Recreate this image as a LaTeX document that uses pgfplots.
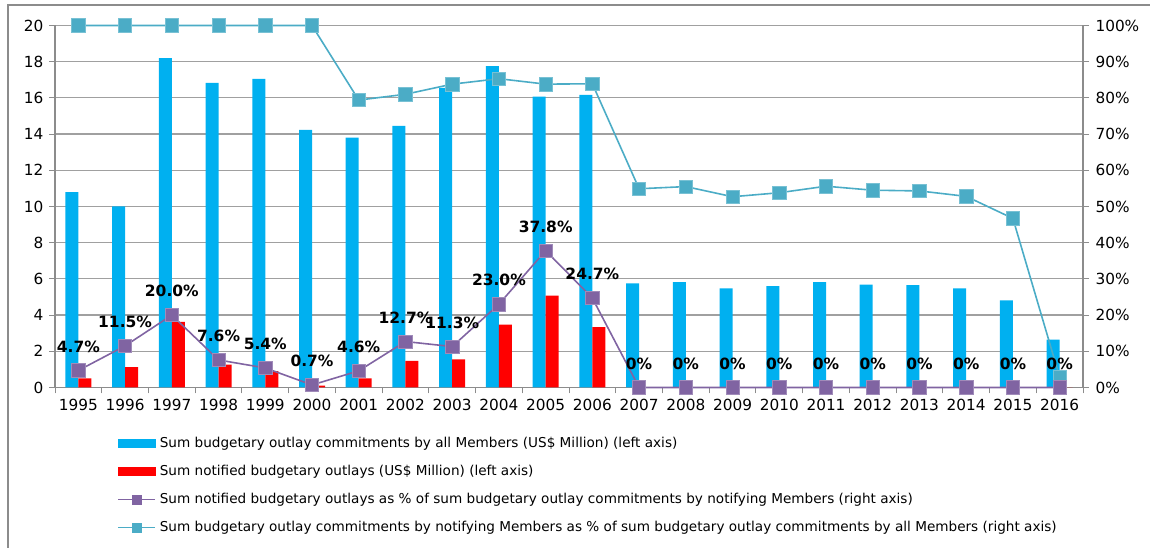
\documentclass[border=0pt]{standalone}
\usepackage{pgfplots}
\pgfplotsset{compat=1.18}
\usepackage{pgfplotstable}
\usepackage{fontspec}
\setmainfont{DejaVu Sans}
\newfontfamily\legfont{DejaVu Sans}
\definecolor{cblue}{HTML}{00B0F0}
\definecolor{cred}{HTML}{FF0000}
\definecolor{cpurple}{HTML}{8064A2}
\definecolor{cteal}{HTML}{4BACC6}
\definecolor{cgrid}{HTML}{A0A0A0}
\definecolor{caxis}{HTML}{8C8C8C}

\pgfplotstableread{
x all notified
0 10.8 0.50
1 10.0 1.12
2 18.2 3.63
3 16.83 1.27
4 17.05 0.90
5 14.23 0.10
6 13.8 0.50
7 14.46 1.47
8 16.56 1.55
9 17.76 3.48
10 16.07 5.08
11 16.16 3.33
12 5.75 0
13 5.82 0
14 5.47 0
15 5.60 0
16 5.82 0
17 5.69 0
18 5.65 0
19 5.47 0
20 4.82 0
21 2.65 0
}\bars

\pgfplotstableread{
x pct label
0 4.7 4.7\%
1 11.5 11.5\%
2 20.0 20.0\%
3 7.6 7.6\%
4 5.4 5.4\%
5 0.7 0.7\%
6 4.6 4.6\%
7 12.7 12.7\%
8 11.3 11.3\%
9 23.0 23.0\%
10 37.8 37.8\%
11 24.7 24.7\%
12 0 0\%
13 0 0\%
14 0 0\%
15 0 0\%
16 0 0\%
17 0 0\%
18 0 0\%
19 0 0\%
20 0 0\%
21 0 0\%
}\purple

\pgfplotstableread{
x share
0 100
1 100
2 100
3 100
4 100
5 100
6 79.4
7 81.0
8 83.8
9 85.3
10 83.8
11 83.9
12 54.9
13 55.5
14 52.7
15 53.8
16 55.6
17 54.5
18 54.3
19 52.8
20 46.7
21 2.9
}\teal

\begin{document}
\begin{tikzpicture}[x=1pt,y=1pt]
\useasboundingbox (0,0) rectangle (1150,548);
\draw[caxis, line width=1.2pt] (8,-5) -- (8,543) -- (1155,543);

\begin{axis}[
  at={(55pt,160.5pt)}, anchor=south west,
  scale only axis, width=1028pt, height=362pt,
  xmin=-0.5, xmax=21.5, ymin=0, ymax=20,
  axis x line*=bottom, axis y line*=left,
  axis line style={caxis, line width=1.2pt},
  ybar=0pt, bar width=13pt,
  xtick={0,...,21},
  xticklabels={1995,1996,1997,1998,1999,2000,2001,2002,2003,2004,2005,2006,2007,2008,2009,2010,2011,2012,2013,2014,2015,2016},
  major x tick style={draw=none},
  minor xtick={-0.5,0.5,...,21.5},
  minor tick length=6pt,
  minor x tick style={caxis, line width=1pt},
  xtick align=outside,
  ytick={0,2,...,20},
  ytick align=outside,
  major tick length=6pt,
  y tick style={caxis, line width=1pt},
  ymajorgrids, grid style={cgrid, line width=1.2pt},
  /pgf/number format/assume math mode=true,
  tick label style={font=\fontsize{15.3}{18}\selectfont, text=black},
  xticklabel style={yshift=-2pt},
  yticklabel style={xshift=-2pt},
]
\addplot[fill=cblue, draw=none] table[x=x, y=all] {\bars};
\addplot[fill=cred, draw=none] table[x=x, y=notified] {\bars};
\end{axis}

\begin{axis}[
  at={(55pt,160.5pt)}, anchor=south west,
  scale only axis, width=1028pt, height=362pt,
  xmin=-0.5, xmax=21.5, ymin=0, ymax=100,
  axis x line=none, axis y line*=right,
  axis line style={caxis, line width=1.2pt},
  ytick={0,10,...,100},
  ytick align=outside,
  major tick length=6pt,
  y tick style={caxis, line width=1pt},
  yticklabel={\pgfmathprintnumber{\tick}\%},
  /pgf/number format/assume math mode=true,
  tick label style={font=\fontsize{15.3}{18}\selectfont, text=black},
  yticklabel style={xshift=3pt},
  clip=false,
  legend style={
    at={(rel axis cs:0.0574,-0.134)}, anchor=north west,
    draw=none, fill=none,
    font=\legfont\fontsize{13.6}{16}\selectfont,
    row sep=15.5pt, column sep=4pt,
    nodes={inner sep=0pt, text height=9.5pt, text depth=3pt},
    cells={anchor=west},
  },
]
\addlegendimage{legend image code/.code={\fill[cblue] (0pt,-3pt) rectangle (37pt,5pt);}}
\addlegendentry{Sum budgetary outlay commitments by all Members (US\$ Million) (left axis)}
\addlegendimage{legend image code/.code={\fill[cred] (0pt,-3pt) rectangle (37pt,5pt);}}
\addlegendentry{Sum notified budgetary outlays (US\$ Million) (left axis)}
\addlegendimage{legend image code/.code={\draw[cpurple, line width=1.6pt] (0pt,1pt) -- (37pt,1pt); \fill[cpurple] (14pt,-3.5pt) rectangle (23pt,5.5pt);}}
\addlegendentry{Sum notified budgetary outlays as \% of sum budgetary outlay commitments by notifying Members (right axis)}
\addlegendimage{legend image code/.code={\draw[cteal, line width=1.6pt] (0pt,1pt) -- (37pt,1pt); \fill[cteal] (14pt,-3.5pt) rectangle (23pt,5.5pt);}}
\addlegendentry{Sum budgetary outlay commitments by notifying Members as \% of sum budgetary outlay commitments by all Members (right axis)}

\addplot[forget plot, cteal, line width=1.6pt, mark=square*, mark size=6.7pt,
  mark options={fill=cteal, draw=cteal!75!white, line width=0.6pt}]
  table[x=x, y=share] {\teal};
\addplot[forget plot, cpurple, line width=1.6pt, mark=square*, mark size=6.7pt,
  mark options={fill=cpurple, draw=cpurple!75!white, line width=0.6pt},
  nodes near coords, point meta=explicit symbolic,
  every node near coord/.append style={anchor=center, yshift=24pt,
    font=\bfseries\fontsize{15.5}{18}\selectfont, text=black}]
  table[x=x, y=pct, meta=label] {\purple};
\end{axis}
\end{tikzpicture}
\end{document}
